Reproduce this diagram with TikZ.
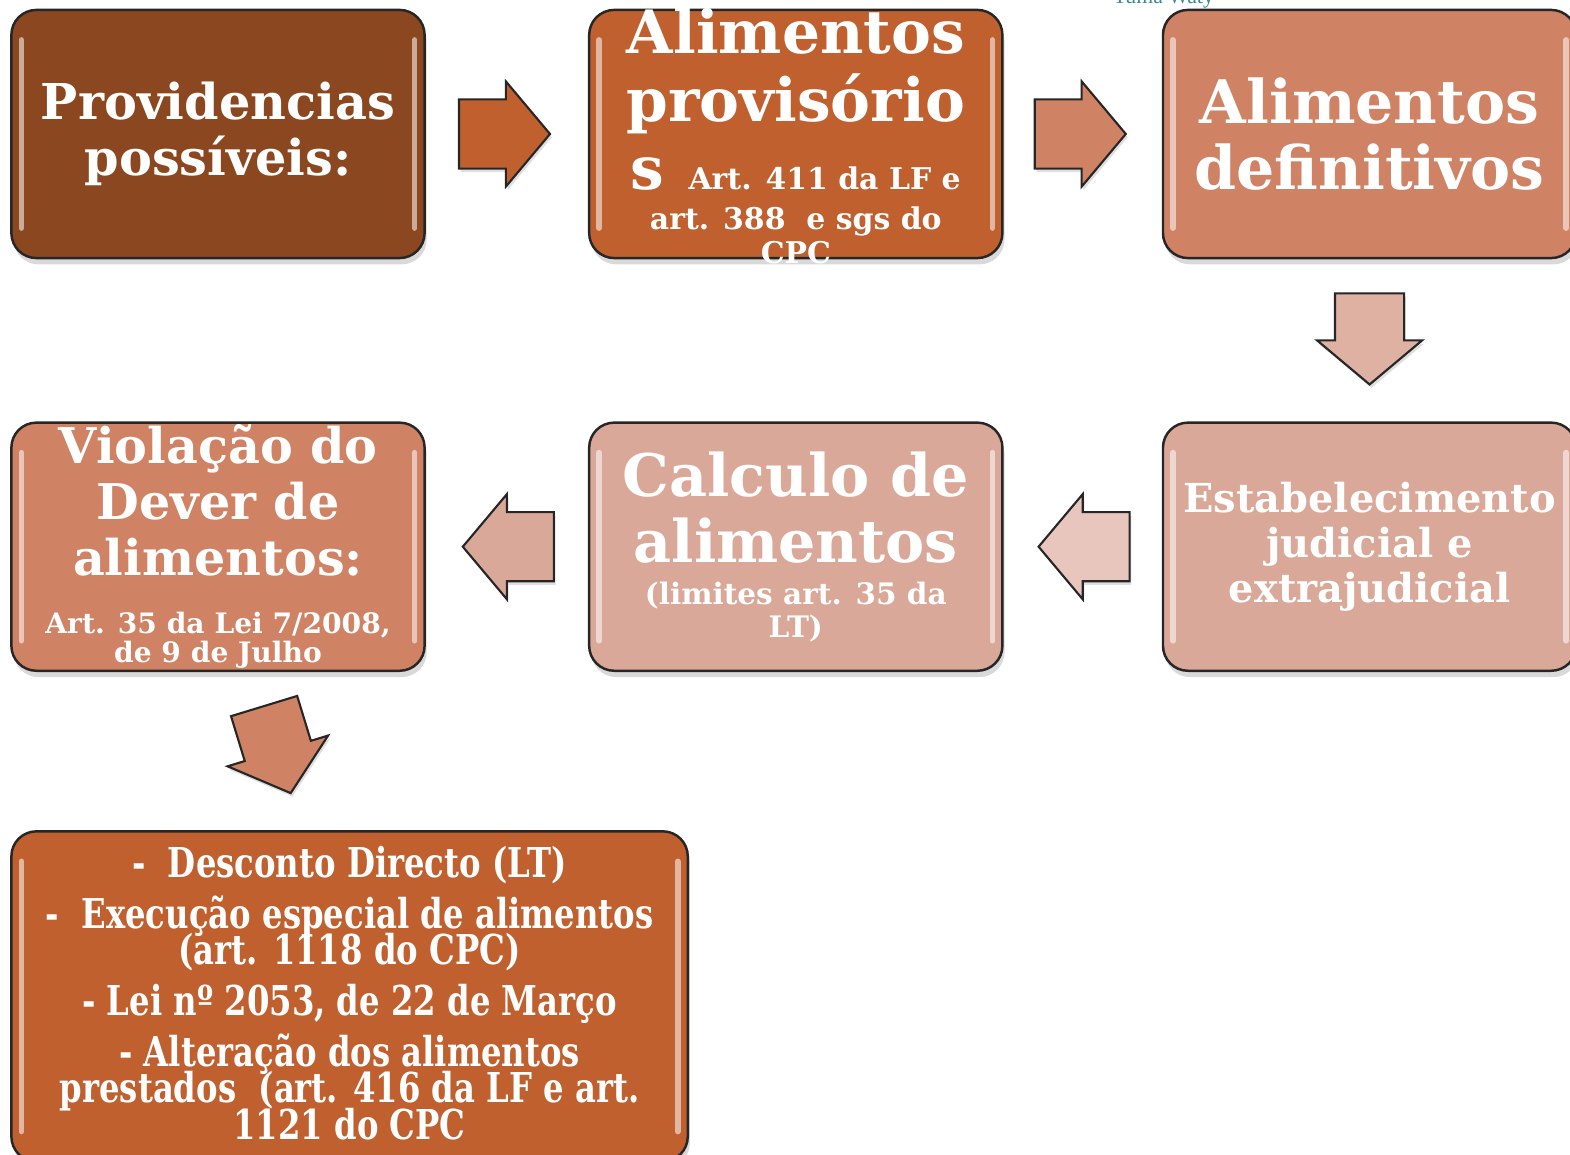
\documentclass[tikz,border=0pt]{standalone}
\usepackage{fontspec}
\setmainfont{DejaVu Serif}
\newfontfamily\narrowserif{DejaVu Serif}[FakeStretch=0.785]
\newfontfamily\creditfont{Liberation Serif}
\usetikzlibrary{positioning,calc,shapes.arrows,shadows}

\definecolor{brownDark}{HTML}{8B471F}
\definecolor{rust}{HTML}{C0602F}
\definecolor{clay}{HTML}{CF8264}
\definecolor{salmon}{HTML}{DAA898}
\definecolor{blush}{HTML}{E8C6BE}
\definecolor{signature}{HTML}{3A8A94}

\newcommand{\smallsz}[1]{\fontsize{#1}{#1}\selectfont}

\begin{document}
\begin{tikzpicture}[
    x=0.01cm, y=-0.01cm,
    node distance=1.62cm,
    box/.style={draw=black!85, line width=0.7pt, rounded corners=0.25cm,
                minimum width=4.13cm, minimum height=2.48cm, inner sep=0pt,
                drop shadow={shadow xshift=0.6pt, shadow yshift=-1.8pt, opacity=0.3},
                path picture={
                  \draw[white, opacity=0.55, line width=1.6pt, line cap=round]
                    ([xshift=0.1cm, yshift=-0.3cm]path picture bounding box.north west) --
                    ([xshift=0.1cm, yshift=0.3cm]path picture bounding box.south west)
                    ([xshift=-0.1cm, yshift=-0.3cm]path picture bounding box.north east) --
                    ([xshift=-0.1cm, yshift=0.3cm]path picture bounding box.south east);}},
    blockarrow/.style={single arrow, draw=black!85, line width=0.6pt, anchor=tail,
                       inner xsep=0pt, inner ysep=0.335cm,
                       single arrow head extend=0.18cm, single arrow tip angle=100,
                       minimum height=0.91cm,
                       drop shadow={shadow xshift=0.5pt, shadow yshift=-1pt, opacity=0.25}},
    txt/.style 2 args={text=white, align=center, inner sep=0pt,
                font={\lineskiplimit=-100pt\bfseries\fontsize{#1}{#2}\selectfont}},
  ]
    \useasboundingbox (0,0) rectangle (1570,1155);

    % top row
    \node[box, fill=brownDark] (prov) at (218,134) {};
    \node[box, fill=rust, right=of prov] (provis) {};
    \node[box, fill=clay, right=1.58cm of provis] (defin) {};
    % middle row
    \node[box, fill=salmon, below=of defin] (estab) {};
    \node[box, fill=salmon, left=1.58cm of estab] (calc) {};
    \node[box, fill=clay, left=of calc] (violac) {};
    % bottom
    \node[box, fill=rust, minimum width=6.76cm, minimum height=3.3cm,
          below=1.58cm of violac.south west, anchor=north west] (medidas) {};

    % texts
    \node[txt={14.05}{16}] (prov-t) at (prov.center) {Providencias\\possíveis:};
    \node[txt={17}{19.3}] (provis-t) at ([yshift=-0.02cm]provis.center)
      {Alimentos\\provisório\\s\hspace{0.4em}{\smallsz{8.5}Art. 411 da LF e}\\[-8pt]
       {\smallsz{8.5}art. 388 \ e sgs do}\\[-9.5pt]{\smallsz{8.5}CPC}};
    \node[txt={17.1}{18.8}] (defin-t) at (defin.center) {Alimentos\\definitivos};
    \node[txt={14}{15.9}] (violac-t) at (violac.center)
      {Violação do\\Dever de\\alimentos:\\[0.5pt]
       {\smallsz{8}Art. 35 da Lei 7/2008,}\\[-7.4pt]{\smallsz{8}de 9 de Julho}};
    \node[txt={16.7}{18.8}] (calc-t) at (calc.center)
      {Calculo de\\alimentos\\[-6.8pt]{\smallsz{8.4}(limites art. 35 da}\\[-9.4pt]{\smallsz{8.4}LT)}};
    \node[txt={11.35}{12.8}] (estab-t) at (estab.center) {Estabelecimento\\judicial e\\extrajudicial};
    \node[text=white, align=center, inner sep=0pt,
          font={\lineskiplimit=-100pt\narrowserif\bfseries\fontsize{11.7}{10.3}\selectfont}]
      (medidas-t) at ([yshift=0.035cm]medidas.center)
      {-\ \ Desconto Directo (LT)\\[4.2pt]
       -\ \ Execução especial de alimentos\\
       (art. 1118 do CPC)\\[4.2pt]
       - Lei nº 2053, de 22 de Março\\[4.2pt]
       - Alteração dos alimentos\\
       prestados \ (art. 416 da LF e art.\\
       1121 do CPC};

    % block arrows
    \node[blockarrow, fill=rust] (a1) at ($(prov.east)!0.5!(provis.west)+(-49,0)$) {};
    \node[blockarrow, fill=clay] (a2) at ($(provis.east)!0.5!(defin.west)+(-49,0)$) {};
    \node[blockarrow, fill=salmon!90!white, rotate=-90] (a3) at ($(defin.south)!0.5!(estab.north)+(0,-48)$) {};
    \node[blockarrow, fill=blush, rotate=180] (a4) at ($(estab.west)!0.5!(calc.east)+(48,0)$) {};
    \node[blockarrow, fill=salmon, rotate=180] (a5) at ($(calc.west)!0.5!(violac.east)+(48,0)$) {};
    \node[blockarrow, fill=clay, rotate=-73] (a6) at ($(violac.south)!0.5!(medidas.north)+(-20,-46)$) {};

    % signature cut by the top edge
    \node[text=signature, inner sep=0pt, anchor=base, font=\creditfont\fontsize{6.2}{7}\selectfont]
      (autor) at (1163,4) {Yuma Waty};
\end{tikzpicture}
\end{document}
